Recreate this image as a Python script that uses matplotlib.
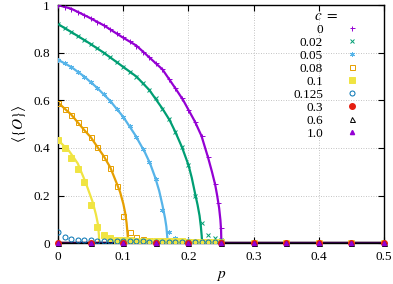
import matplotlib
matplotlib.use("Agg")
import matplotlib.pyplot as plt
from matplotlib.ticker import FormatStrFormatter

plt.rcParams['font.family'] = ['Liberation Serif', 'DejaVu Serif']
plt.rcParams['mathtext.fontset'] = 'stix'

# theory curves <O>(p) for c = 0, 0.02, 0.05, 0.08, 0.1
p_c0 = [0, 0.02, 0.046, 0.07, 0.098, 0.12, 0.14, 0.16, 0.18, 0.192, 0.2, 0.21, 0.22,
        0.23, 0.236, 0.241, 0.244, 0.247, 0.249, 0.25, 0.2505, 0.5]
O_c0 = [1.0, 0.985, 0.95, 0.915, 0.866, 0.83, 0.78, 0.73, 0.65, 0.60, 0.56, 0.51, 0.45,
        0.36, 0.30, 0.245, 0.20, 0.148, 0.097, 0.056, 0.0, 0.0]

p_c002 = [0, 0.02, 0.045, 0.07, 0.098, 0.12, 0.14, 0.16, 0.171, 0.18, 0.19, 0.2, 0.205,
          0.21, 0.214, 0.217, 0.219, 0.2203, 0.221, 0.5]
O_c002 = [0.92, 0.887, 0.845, 0.80, 0.744, 0.70, 0.643, 0.565, 0.517, 0.466, 0.403, 0.328,
          0.275, 0.21, 0.16, 0.115, 0.07, 0.03, 0.0, 0.0]

p_c005 = [0, 0.02, 0.04, 0.06, 0.08, 0.1, 0.118, 0.133, 0.141, 0.149, 0.155, 0.16, 0.164,
          0.166, 0.1675, 0.168, 0.5]
O_c005 = [0.77, 0.74, 0.70, 0.652, 0.597, 0.53, 0.455, 0.382, 0.335, 0.275, 0.22, 0.16,
          0.105, 0.07, 0.025, 0.0, 0.0]

p_c008 = [0, 0.02, 0.04, 0.05, 0.06, 0.07, 0.08, 0.09, 0.095, 0.1, 0.103, 0.105, 0.1065,
          0.1075, 0.5]
O_c008 = [0.59, 0.54, 0.475, 0.445, 0.405, 0.365, 0.318, 0.25, 0.215, 0.165, 0.125, 0.085,
          0.04, 0.0, 0.0]

p_c01 = [0, 0.01, 0.016, 0.03, 0.042, 0.05, 0.053, 0.058, 0.061, 0.0625, 0.063, 0.5]
O_c01 = [0.433, 0.405, 0.39, 0.335, 0.256, 0.195, 0.172, 0.12, 0.08, 0.035, 0.0, 0.0]

# simulation points
p_sim = [0, 0.01, 0.02, 0.03, 0.04, 0.05, 0.06, 0.07, 0.08, 0.09, 0.1, 0.11, 0.12, 0.13,
         0.14, 0.15, 0.16, 0.17, 0.18, 0.19, 0.2, 0.21, 0.22, 0.23, 0.24, 0.25]
p_sim0 = [0, 0.01, 0.02, 0.03, 0.04, 0.05, 0.06, 0.07, 0.08, 0.09, 0.1, 0.11, 0.12, 0.13,
          0.14, 0.15, 0.16, 0.17, 0.18, 0.19, 0.2, 0.21, 0.22, 0.23, 0.24, 0.245, 0.25]
sim_c0 = [1.0, 0.993, 0.985, 0.972, 0.96, 0.945, 0.93, 0.915, 0.898, 0.882, 0.865, 0.848,
          0.83, 0.805, 0.78, 0.755, 0.73, 0.69, 0.65, 0.61, 0.56, 0.51, 0.45, 0.36, 0.25,
          0.17, 0.065]
sim_c002 = [0.92, 0.905, 0.887, 0.87, 0.853, 0.835, 0.818, 0.80, 0.782, 0.762, 0.74, 0.72,
            0.70, 0.672, 0.643, 0.61, 0.565, 0.52, 0.466, 0.403, 0.328, 0.20, 0.085, 0.035,
            0.022, 0.015]
sim_c005 = [0.77, 0.755, 0.74, 0.72, 0.70, 0.677, 0.652, 0.625, 0.597, 0.565, 0.53, 0.49,
            0.445, 0.395, 0.34, 0.268, 0.14, 0.046, 0.022, 0.015, 0.012, 0.01, 0.009, 0.008,
            0.007, 0.006]
sim_c008 = [0.59, 0.565, 0.54, 0.51, 0.478, 0.445, 0.405, 0.36, 0.315, 0.24, 0.115, 0.046,
            0.025, 0.018, 0.014, 0.012, 0.011, 0.01, 0.009, 0.009, 0.008, 0.008, 0.007,
            0.007, 0.006, 0.006]
sim_c01 = [0.433, 0.40, 0.357, 0.31, 0.256, 0.16, 0.067, 0.034, 0.02, 0.015, 0.012, 0.011,
           0.01, 0.009, 0.009, 0.008, 0.008, 0.007, 0.007, 0.007, 0.006, 0.006, 0.006,
           0.005, 0.005, 0.005]
sim_c0125 = [0.046, 0.026, 0.018, 0.014, 0.012, 0.011, 0.01, 0.009, 0.009, 0.008, 0.008,
             0.007, 0.007, 0.007, 0.006, 0.006, 0.006, 0.006, 0.005, 0.005, 0.005, 0.005,
             0.005, 0.005, 0.004, 0.004]
p_far = [0.3, 0.35, 0.4, 0.45, 0.5]
sim_far = [0, 0, 0, 0, 0]
p_zero = [0, 0.05, 0.1, 0.15, 0.2, 0.25, 0.3, 0.35, 0.4, 0.45, 0.5]
sim_zero = [0, 0, 0, 0, 0, 0, 0, 0, 0, 0, 0]

purple = '#9400d3'
green = '#009e73'
lblue = '#56b4e9'
orange = '#e69f00'
yellow = '#f0e442'
dblue = '#0072b2'
red = '#e51e10'

fig = plt.figure(figsize=(3.93, 2.84), dpi=100)
ax = fig.add_axes([0.148, 0.144, 0.829, 0.838])

lw = 1.6
ax.plot(p_c0, O_c0, color=purple, lw=lw, zorder=2)
ax.plot(p_c002, O_c002, color=green, lw=lw, zorder=2)
ax.plot(p_c005, O_c005, color=lblue, lw=lw, zorder=2)
ax.plot(p_c008, O_c008, color=orange, lw=lw, zorder=2)
ax.plot(p_c01, O_c01, color=yellow, lw=lw, zorder=2)
ax.plot(p_zero, sim_zero, color=dblue, lw=lw, zorder=2)
ax.plot(p_zero, sim_zero, color=red, lw=lw, zorder=2)
ax.plot(p_zero, sim_zero, color='black', lw=lw, zorder=2)
ax.plot(p_zero, sim_zero, color='#3a0050', lw=lw, zorder=2)

ms = 3.6
mew = 0.7
ax.plot(p_sim0, sim_c0, ls='none', marker='+', color=purple, ms=ms, mew=mew, label='0', zorder=3)
ax.plot(p_sim, sim_c002, ls='none', marker='x', color=green, ms=ms - 0.4, mew=mew, label='0.02', zorder=3)
ax.plot(p_sim, sim_c005, ls='none', marker=(6, 2, 0), color=lblue, ms=ms, mew=mew, label='0.05', zorder=3)
ax.plot(p_sim + p_far, sim_c008 + sim_far, ls='none', marker='s', mfc='none', mec=orange, ms=ms,
        mew=mew, label='0.08', zorder=3)
ax.plot(p_sim + p_far, sim_c01 + sim_far, ls='none', marker='s', color=yellow, ms=ms + 0.4,
        mew=mew, label='0.1', zorder=3)
ax.plot(p_sim, sim_c0125, ls='none', marker='o', mfc='none', mec=dblue, ms=ms, mew=mew,
        label='0.125', zorder=3)
ax.plot(p_zero, sim_zero, ls='none', marker='o', color=red, ms=ms + 0.4, label='0.3', zorder=3,
        clip_on=False)
ax.plot(p_zero, sim_zero, ls='none', marker='^', mfc='none', mec='black', ms=ms, mew=mew,
        label='0.6', zorder=3, clip_on=False)
ax.plot(p_zero, sim_zero, ls='none', marker='^', color=purple, ms=ms - 0.6, label='1.0', zorder=3,
        clip_on=False)

ax.set_xlim(0, 0.5)
ax.set_ylim(0, 1)
ax.set_xticks([0, 0.1, 0.2, 0.3, 0.4, 0.5])
ax.set_yticks([0, 0.2, 0.4, 0.6, 0.8, 1])
ax.xaxis.set_major_formatter(FormatStrFormatter('%g'))
ax.yaxis.set_major_formatter(FormatStrFormatter('%g'))
ax.tick_params(direction='in', top=True, right=True, labelsize=9.5, length=4, width=0.8, pad=6)
ax.grid(True, color='#b0b0b0', linestyle=(0, (1, 2)), linewidth=0.6)
for s in ax.spines.values():
    s.set_linewidth(1.0)

ax.set_xlabel('$p$', fontsize=11, labelpad=4)
ax.set_ylabel(r'$\langle\{O\}\rangle$', fontsize=11, labelpad=4)

leg = ax.legend(title='$c$ $=$', loc='upper right', bbox_to_anchor=(0.955, 1.02), frameon=False,
                markerfirst=False, fontsize=9.5, title_fontsize=11, labelspacing=0.06,
                handlelength=1.2, handletextpad=1.6, borderaxespad=0.3, alignment='center')

fig.savefig('out.png', dpi=100)
